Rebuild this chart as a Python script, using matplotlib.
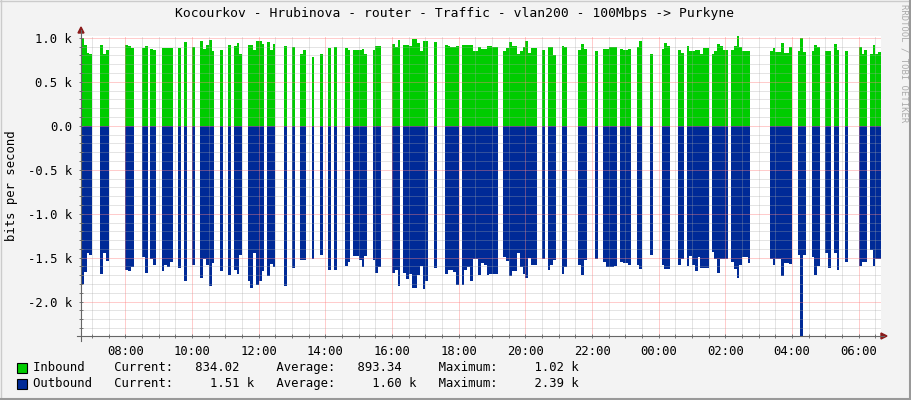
import numpy as np
import matplotlib.pyplot as plt
from matplotlib.ticker import MultipleLocator, FuncFormatter
from matplotlib.lines import Line2D
from matplotlib.patches import Rectangle, Polygon

plt.rcParams['font.family'] = 'DejaVu Sans Mono'

title = "Kocourkov - Hrubinova - router - Traffic - vlan200 - 100Mbps -> Purkyne"

# start of each run of samples (5 minute steps), values in bits per second
seg_start = ["06:40", "07:15", "08:00", "08:30", "08:45", "09:05", "09:35", "09:45",
             "10:00", "10:15", "10:50", "11:05", "11:15", "11:40", "12:15", "12:45",
             "13:00", "13:15", "13:35", "13:50", "14:05", "14:15", "14:35", "14:50",
             "15:25", "16:00", "16:20", "17:15", "17:35", "18:05", "19:20", "20:30",
             "20:40", "21:05", "21:35", "22:05", "22:20", "22:50", "23:20", "23:45",
             "00:05", "00:35", "00:50", "01:35", "02:10", "03:20", "04:10", "04:35",
             "05:00", "05:15", "05:35", "06:00", "06:20"]

inbound = [
    [1000, 920, 830, 810], [920, 820, 860], [920, 910, 880], [880, 910], [875, 860],
    [885, 885, 885, 885], [885], [950], [890], [960, 875, 920, 980, 850], [860], [920],
    [910, 940, 820], [920, 920, 860, 965, 960, 930], [950, 860, 930], [910], [890],
    [810, 860], [780], [820], [880], [890], [880, 860], [860, 860, 860, 870, 820],
    [860, 910, 910], [930, 900, 980], [920, 920, 910, 985, 985, 940, 845, 960, 960],
    [955], [920, 910, 900, 900, 910],
    [920, 920, 920, 920, 855, 855, 900, 875, 875, 910, 910, 900, 900],
    [855, 880, 950, 910, 910, 820, 845, 900, 965, 825, 880, 880],
    [860], [890, 890, 800], [910, 890], [860, 930, 875], [850],
    [875, 875, 890, 890, 900], [875, 865, 865, 875], [890, 960], [810], [875, 940, 910],
    [860, 830], [910, 855, 855, 865, 865, 820, 880, 880], [820, 855, 930, 910, 865, 865],
    [865, 910, 1020, 900, 845, 845, 855], [855, 880, 840, 840, 940, 825, 825, 900],
    [855, 1000, 835], [845, 920, 900], [845, 855], [930, 865], [845], [900, 820, 860],
    [820, 920, 820, 834],
]

outbound = [
    [1800, 1660, 1450, 1470], [1690, 1450, 1540], [1640, 1650, 1610], [1490, 1670],
    [1520, 1580], [1650, 1580, 1610, 1550], [1620], [1770], [1580],
    [1730, 1520, 1580, 1820, 1560], [1650], [1700], [1640, 1680, 1470],
    [1760, 1840, 1450, 1810, 1760, 1650], [1710, 1570, 1610], [1820], [1620],
    [1530, 1530], [1520], [1470], [1640], [1645], [1600, 1550],
    [1480, 1480, 1530, 1610, 1480], [1530, 1670, 1610], [1670, 1640, 1820],
    [1670, 1740, 1690, 1840, 1840, 1700, 1600, 1860, 1770], [1620],
    [1690, 1640, 1640, 1660, 1810],
    [1810, 1640, 1610, 1770, 1515, 1515, 1700, 1560, 1580, 1700, 1690, 1690, 1690],
    [1490, 1540, 1710, 1655, 1655, 1450, 1610, 1690, 1730, 1500, 1580, 1580],
    [1520], [1640, 1580, 1530], [1680, 1610], [1580, 1700, 1530], [1520],
    [1550, 1610, 1610, 1610, 1600], [1550, 1560, 1560, 1580], [1580, 1630], [1470],
    [1580, 1630, 1630], [1580, 1520], [1600, 1485, 1580, 1655, 1490, 1620, 1620, 1620],
    [1430, 1520, 1670, 1520, 1520, 1520], [1550, 1630, 1730, 1580, 1490, 1490, 1555],
    [1515, 1580, 1520, 1520, 1710, 1560, 1560, 1570], [1470, 2390, 1470],
    [1490, 1700, 1600], [1450, 1620], [1450, 1645], [1550], [1600, 1550, 1550],
    [1410, 1600, 1520, 1510],
]

legend_names = ["Inbound", "Outbound"]
legend_colors = ["#00CC00", "#002A97"]
legend_current = [834.02, 1510]
legend_average = [893.34, 1600]
legend_maximum = [1020, 2390]

W, H = 911, 400
fig = plt.figure(figsize=(W / 100, H / 100), dpi=100, facecolor="#F3F3F3")

# build the 5 minute series with gaps
t0 = 6 + 40 / 60
step = 5 / 60
n = 288
edges = t0 + np.arange(n + 1) * step
in_vals = np.full(n, np.nan)
out_vals = np.full(n, np.nan)
for s, vi, vo in zip(seg_start, inbound, outbound):
    h, m = map(int, s.split(":"))
    hrs = h + m / 60
    if hrs < t0 - 1e-9:
        hrs += 24
    i = int(round((hrs - t0) / step))
    in_vals[i:i + len(vi)] = vi
    out_vals[i:i + len(vo)] = vo

ax = fig.add_axes([81 / W, 1 - 336 / H, 800 / W, 300 / H])
ax.set_facecolor("white")
ax.stairs(in_vals, edges, baseline=0, fill=True, color=legend_colors[0], lw=0, antialiased=False)
ax.stairs(-out_vals, edges, baseline=0, fill=True, color=legend_colors[1], lw=0, antialiased=False)
ax.set_xlim(t0, t0 + 24)
ax.set_ylim(-2390, 1020)

ax.xaxis.set_major_locator(MultipleLocator(2))
ax.xaxis.set_minor_locator(MultipleLocator(0.5))
ax.yaxis.set_major_locator(MultipleLocator(500))
ax.yaxis.set_minor_locator(MultipleLocator(100))
ax.xaxis.set_major_formatter(FuncFormatter(lambda v, p: "%02d:00" % (int(round(v)) % 24)))
ax.yaxis.set_major_formatter(FuncFormatter(lambda v, p: "0.0" if abs(v) < 1 else "%.1f k" % (v / 1000)))

ax.set_axisbelow(False)
ax.grid(which="minor", color="#A8A8A8", alpha=0.6, linestyle=(0, (1, 1)), linewidth=0.72)
ax.grid(which="major", color="#FF8080", alpha=0.8, linestyle=(0, (1, 1)), linewidth=0.72)
for sp in ax.spines.values():
    sp.set_visible(False)
ax.tick_params(which="both", direction="inout", length=3, width=0.7, color="#777777",
               labelsize=8.8, labelcolor="black")
ax.tick_params(axis="x", pad=5)
ax.tick_params(axis="y", pad=5)

# axis lines with arrows
def px(x, y):
    return x / W, 1 - y / H

axis_col = "#666666"
arrow_col = "#8B1A1A"
fig.add_artist(Line2D(*zip(px(81, 341), px(81, 30)), color=axis_col, lw=0.8))
fig.add_artist(Line2D(*zip(px(77, 336), px(884, 336)), color=axis_col, lw=0.8))
fig.add_artist(Polygon([px(81, 27), px(78, 33), px(84, 33)], closed=True,
                       color=arrow_col, transform=fig.transFigure))
fig.add_artist(Polygon([px(887, 336), px(881, 333), px(881, 339)], closed=True,
                       color=arrow_col, transform=fig.transFigure))

fig.text(455 / W, 1 - 13 / H, title, ha="center", va="center", fontsize=9.4)
fig.text(12 / W, 1 - 186 / H, "bits per second", rotation=90, ha="center", va="center",
         fontsize=8.8)
fig.text(904 / W, 1 - 4 / H, "RRDTOOL / TOBI OETIKER", rotation=270, ha="center", va="top",
         fontsize=6.4, color="#AAAAAA")


def fmt(v):
    if v >= 1000:
        return "%8.2f k" % (v / 1000)
    return "%8.2f  " % v


for k, name in enumerate(legend_names):
    yc = 368 + 16 * k
    fig.add_artist(Rectangle(px(17, yc + 5), 10 / W, 10 / H, facecolor=legend_colors[k],
                             edgecolor="black", lw=0.8, transform=fig.transFigure))
    line = ("%-11s" % name) + "Current: " + fmt(legend_current[k]) + "   Average: " + \
        fmt(legend_average[k]) + "   Maximum: " + fmt(legend_maximum[k])
    fig.text(33 / W, 1 - yc / H, line, ha="left", va="center", fontsize=8.8)

# outer shading border
fig.add_artist(Line2D(*zip(px(0, 0.5), px(911, 0.5)), color="#CBCBCB", lw=1))
fig.add_artist(Line2D(*zip(px(0.5, 0), px(0.5, 400)), color="#CBCBCB", lw=1))
fig.add_artist(Line2D(*zip(px(0, 399), px(911, 399)), color="#999999", lw=1.5))
fig.add_artist(Line2D(*zip(px(910, 0), px(910, 400)), color="#999999", lw=1.5))

fig.savefig("out.png", dpi=100, facecolor=fig.get_facecolor())
